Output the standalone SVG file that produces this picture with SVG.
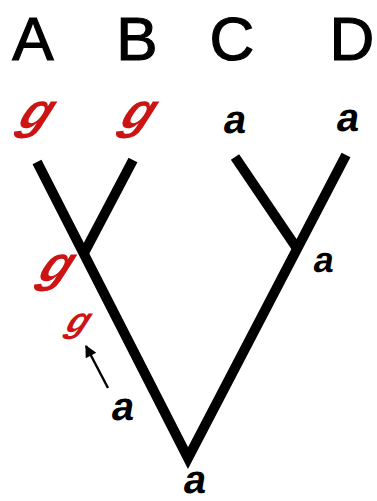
<svg xmlns="http://www.w3.org/2000/svg" width="377" height="501" viewBox="0 0 377 501">
<defs>
<style>
.taxon{font-family:"Liberation Sans",Arial,sans-serif;font-size:62px;fill:#000;stroke:#000;stroke-width:1.2;text-anchor:middle}
.g{font-family:"Liberation Sans",Arial,sans-serif;font-weight:bold;font-style:italic;fill:#cc1414}
.a{font-family:"Liberation Sans",Arial,sans-serif;font-weight:bold;fill:#000}
.branch{fill:none;stroke:#000;stroke-width:10;stroke-linecap:butt;stroke-linejoin:miter}
</style>
<marker id="arr" viewBox="0 0 10 10" refX="9" refY="5" markerWidth="6" markerHeight="5" orient="auto" markerUnits="strokeWidth">
<path d="M0,0 L10,5 L0,10 z" fill="#000"/>
</marker>
</defs>
<rect width="377" height="501" fill="#fff"/>
<g id="connectors">
<polyline class="branch" points="37,162 188,458 346,155"/>
<line class="branch" x1="133" y1="160" x2="83" y2="255"/>
<line class="branch" x1="235" y1="157" x2="298" y2="250"/>
<line x1="108" y1="388" x2="86" y2="346" stroke="#000" stroke-width="2.4" marker-end="url(#arr)"/>
</g>
<g id="A"><text class="taxon" x="33" y="60">A</text><text class="g" font-size="50" transform="translate(16,128) skewX(-24)">g</text></g>
<g id="B"><text class="taxon" x="137" y="60">B</text><text class="g" font-size="50" transform="translate(118,128) skewX(-24)">g</text></g>
<g id="C"><text class="a" font-size="40" transform="translate(222,133) skewX(-10)">a</text><text class="taxon" x="232" y="60">C</text></g>
<g id="D"><text class="taxon" x="352" y="60">D</text><text class="a" font-size="40" transform="translate(335,131) skewX(-10)">a</text></g>
<g id="nodeAB"><text class="g" font-size="50" transform="translate(36,281) skewX(-24)">g</text></g>
<g id="nodeCD"><text class="a" font-size="36" transform="translate(312,272) skewX(-10)">a</text></g>
<g id="change"><text class="g" font-size="35" transform="translate(64,332) skewX(-24)">g</text><text class="a" font-size="40" transform="translate(110,420) skewX(-10)">a</text></g>
<g id="root"><text class="a" font-size="40" transform="translate(182,493) skewX(-10)">a</text></g>
</svg>
